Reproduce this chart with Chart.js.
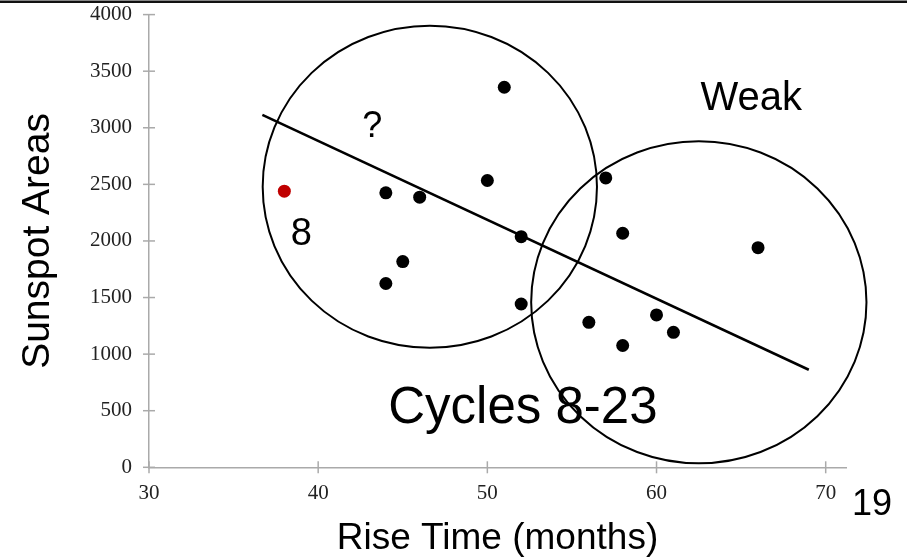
<!DOCTYPE html>
<html>
<head>
<meta charset="utf-8">
<script src="https://cdn.jsdelivr.net/npm/chart.js@4/dist/chart.umd.min.js"></script>
<style>
  html, body { margin: 0; padding: 0; background: #fff; }
  canvas { display: block; }
</style>
</head>
<body>
<canvas id="myChart" width="907" height="559"></canvas>
<script>
// rise time (months) vs sunspot area, cycles 8-23
var cycle8Rise = [38];
var cycle8Area = [2440];
var riseTime = [44, 46, 50, 51, 52, 45, 44, 52, 57, 58, 56, 58, 66, 60, 61];
var spotArea = [2425, 2387, 2534, 3358, 2038, 1818, 1624, 1443, 2557, 2068, 1281, 1076, 1941, 1346, 1193];
var fitRise = [36.7, 69];
var fitArea = [3115, 862];
var xTicks = [30, 40, 50, 60, 70];
var yTicks = [0, 500, 1000, 1500, 2000, 2500, 3000, 3500, 4000];

// hand drawn groups (centre + radii, data units)
var groupX = [46.6, 62.5];
var groupY = [2479, 1458];
var groupRx = [9.88, 9.91];
var groupRy = [1423, 1423];

var noteText = ["?", "8", "Weak", "Cycles 8-23"];
var noteX = [43.2, 39.0, 65.6, 52.1];
var noteY = [2915, 1965, 3161, 390];
var noteSize = [36, 38, 40, 51];

function pts(xs, ys){
	var out = [];
	for(var i = 0;i<xs.length;i++){
		out.push({x: xs[i], y: ys[i]});
	}
	return out;
}

var extras = {
	id: 'extras',
	beforeDraw: function(chart){
		var ctx = chart.ctx;
		ctx.save();
		ctx.fillStyle = "#fff";
		ctx.fillRect(0, 0, chart.width, chart.height);
		ctx.fillStyle = "#111";
		ctx.fillRect(0, 0.5, chart.width, 2.5);
		ctx.restore();
	},
	afterDraw: function(chart){
		var ctx = chart.ctx;
		var xs = chart.scales.x, ys = chart.scales.y;
		ctx.save();
		// crossing tick marks
		ctx.strokeStyle = "#aaa";
		ctx.lineWidth = 1.5;
		var ax = xs.getPixelForValue(30), ay = ys.getPixelForValue(0);
		xTicks.forEach(function(v){
			var px = xs.getPixelForValue(v);
			ctx.beginPath(); ctx.moveTo(px, ay - 6); ctx.lineTo(px, ay + 6); ctx.stroke();
		});
		yTicks.forEach(function(v){
			var py = ys.getPixelForValue(v);
			ctx.beginPath(); ctx.moveTo(ax - 6, py); ctx.lineTo(ax + 6, py); ctx.stroke();
		});
		// group ellipses
		ctx.strokeStyle = "#000";
		ctx.lineWidth = 2;
		for(var i = 0;i<groupX.length;i++){
			var cx = xs.getPixelForValue(groupX[i]);
			var cy = ys.getPixelForValue(groupY[i]);
			var rx = xs.getPixelForValue(groupX[i] + groupRx[i]) - cx;
			var ry = cy - ys.getPixelForValue(groupY[i] + groupRy[i]);
			ctx.beginPath();
			ctx.ellipse(cx, cy, rx, ry, 0, 0, Math.PI * 2);
			ctx.stroke();
		}
		// notes
		ctx.fillStyle = "#000";
		ctx.textAlign = "center";
		ctx.textBaseline = "alphabetic";
		for(var j = 0;j<noteText.length;j++){
			ctx.font = noteSize[j] + "px 'Liberation Sans', Arial, sans-serif";
			ctx.fillText(noteText[j], xs.getPixelForValue(noteX[j]), ys.getPixelForValue(noteY[j]));
		}
		// slide number
		ctx.font = "36px 'Liberation Sans', Arial, sans-serif";
		ctx.fillText("19", 872, 515);
		ctx.restore();
	}
};

var ctx = document.getElementById("myChart").getContext("2d");
var config = {
	type: 'scatter',
	data: {
		datasets: [{
			label: 'Cycle 8',
			data: pts(cycle8Rise, cycle8Area),
			backgroundColor: "#c00000",
			borderWidth: 0,
			pointRadius: 6.5
		}, {
			label: 'Cycles 9-23',
			data: pts(riseTime, spotArea),
			backgroundColor: "#000",
			borderWidth: 0,
			pointRadius: 6.5
		}, {
			label: 'fit',
			type: 'line',
			data: pts(fitRise, fitArea),
			borderColor: "#000",
			borderWidth: 2.5,
			pointRadius: 0,
			fill: false
		}]
	},
	options: {
		responsive: false,
		animation: false,
		devicePixelRatio: 1,
		layout: {
			padding: {left: 0, right: 61, top: 12.7, bottom: 0}
		},
		plugins: {
			legend: {display: false},
			tooltip: {enabled: false}
		},
		scales: {
			x: {
				type: 'linear',
				min: 30,
				max: 71.2,
				afterBuildTicks: function(s){
					s.ticks = xTicks.map(function(v){ return {value: v}; });
				},
				afterFit: function(s){ s.height = 91.7; },
				grid: {display: true, drawOnChartArea: false, drawTicks: true, tickLength: 12, color: "rgba(0,0,0,0)"},
				border: {display: true, color: "#aaa", width: 1.5},
				ticks: {
					padding: 2,
					color: "#222",
					maxRotation: 0,
					font: {family: "'Liberation Serif', 'Times New Roman', serif", size: 21},
					callback: function(v){ return String(v); }
				},
				title: {
					display: true,
					text: 'Rise Time (months)',
					color: "#000",
					padding: {top: 0, bottom: -2},
					font: {family: "'Liberation Sans', Arial, sans-serif", size: 37}
				}
			},
			y: {
				type: 'linear',
				min: 0,
				max: 4000,
				afterBuildTicks: function(s){
					s.ticks = yTicks.map(function(v){ return {value: v}; });
				},
				afterFit: function(s){ s.width = 149; },
				grid: {display: true, drawOnChartArea: false, drawTicks: true, tickLength: 15, color: "rgba(0,0,0,0)"},
				border: {display: true, color: "#aaa", width: 1.5},
				ticks: {
					padding: 2,
					color: "#222",
					font: {family: "'Liberation Serif', 'Times New Roman', serif", size: 21},
					callback: function(v){ return String(v); }
				},
				title: {
					display: true,
					text: 'Sunspot Areas',
					color: "#000",
					padding: {top: 15, bottom: 0},
					font: {family: "'Liberation Sans', Arial, sans-serif", size: 39}
				}
			}
		}
	},
	plugins: [extras]
};
var chart = new Chart(ctx, config);
</script>
</body>
</html>
